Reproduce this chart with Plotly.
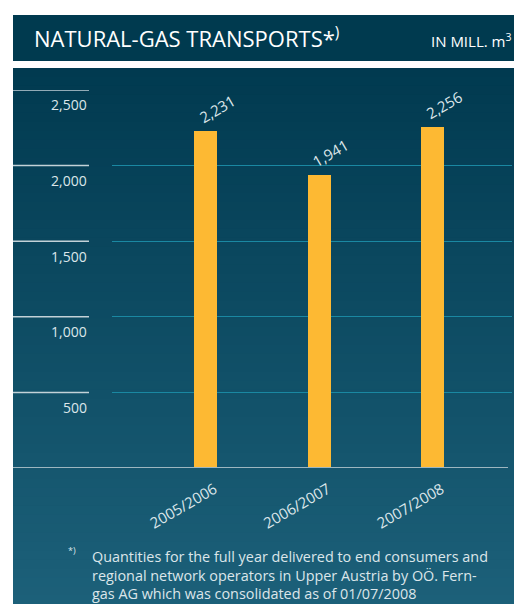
import plotly.graph_objects as go

W, H = 514, 604

categories = ["2005/2006", "2006/2007", "2007/2008"]
volumes = [2231, 1941, 2256]
value_labels = ["2,231", "1,941", "2,256"]
y_ticks = [500, 1000, 1500, 2000, 2500]
y_tick_labels = ["500", "1,000", "1,500", "2,000", "2,500"]

FONT = "Open Sans"
BAR = "#fdb933"
TEXT = "#dce6ea"


def fx(p):
    return p / W


def fy(p):
    return 1 - p / H


fig = go.Figure()

fig.add_trace(go.Bar(
    x=categories, y=volumes, width=0.203,
    marker=dict(color=BAR, line=dict(width=0)),
    hoverinfo="skip",
))

shapes = []
# header band
shapes.append(dict(type="rect", xref="paper", yref="paper",
                   x0=fx(13), x1=1, y0=fy(61), y1=fy(15),
                   fillcolor="#003a4f", line=dict(width=0), layer="below"))
# panel with vertical gradient: each band runs to the bottom so no seams show
top, bottom = 68, H
c0 = (0x01, 0x3a, 0x50)
c1 = (0x1c, 0x60, 0x79)
n = 60
step = (bottom - top) / n
for i in range(n):
    t = i / (n - 1)
    c = tuple(round(a + (b - a) * t) for a, b in zip(c0, c1))
    shapes.append(dict(type="rect", xref="paper", yref="paper",
                       x0=fx(13), x1=1,
                       y0=0, y1=fy(top + i * step),
                       fillcolor="rgb(%d,%d,%d)" % c, line=dict(width=0),
                       layer="below"))
# short left tick marks
for v in y_ticks:
    shapes.append(dict(type="line", xref="paper", yref="y",
                       x0=fx(13), x1=fx(89), y0=v, y1=v,
                       line=dict(color="#c3d2d8", width=1.5)))
# base line
shapes.append(dict(type="line", xref="paper", yref="y",
                   x0=fx(13), x1=fx(508), y0=0, y1=0,
                   line=dict(color="#9db6c0", width=2)))

annotations = []
for v, lab in zip(y_ticks, y_tick_labels):
    annotations.append(dict(x=fx(89), y=v, xref="paper", yref="y",
                            text=lab, showarrow=False, xanchor="right",
                            yanchor="middle", yshift=-15,
                            font=dict(family=FONT, size=14, color=TEXT)))
for c, v, lab in zip(categories, volumes, value_labels):
    annotations.append(dict(x=c, y=v, xref="x", yref="y", text=lab,
                            showarrow=False, textangle=-30,
                            xanchor="center", yanchor="middle",
                            xshift=11, yshift=22,
                            font=dict(family=FONT, size=15, color=TEXT)))

annotations.append(dict(x=fx(32), y=fy(38), xref="paper", yref="paper",
                        text="NATURAL-GAS TRANSPORTS*<sup>)</sup>",
                        showarrow=False, xanchor="left", yanchor="middle",
                        font=dict(family=FONT, size=22, color="#ffffff")))
annotations.append(dict(x=fx(513), y=fy(40), xref="paper", yref="paper",
                        text="IN MILL. m<sup>3</sup>",
                        showarrow=False, xanchor="right", yanchor="middle",
                        font=dict(family=FONT, size=15, color="#ffffff")))

annotations.append(dict(x=fx(66), y=fy(550), xref="paper", yref="paper",
                        text="*)", showarrow=False, xanchor="left",
                        yanchor="middle",
                        font=dict(family=FONT, size=9, color=TEXT)))
foot_lines = [
    "Quantities for the full year delivered to end consumers and",
    "regional network operators in Upper Austria by OÖ. Fern-",
    "gas AG which was consolidated as of 01/07/2008",
]
annotations.append(dict(x=fx(90), y=fy(545), xref="paper", yref="paper",
                        text="<br>".join(foot_lines), showarrow=False,
                        xanchor="left", yanchor="top", align="left",
                        font=dict(family=FONT, size=14.4, color=TEXT)))

fig.update_layout(
    width=W, height=H,
    margin=dict(l=0, r=0, t=0, b=0),
    paper_bgcolor="#ffffff",
    plot_bgcolor="rgba(0,0,0,0)",
    showlegend=False,
    bargap=0,
    shapes=shapes,
    annotations=annotations,
    xaxis=dict(
        domain=[fx(112), fx(512)],
        range=[-0.824, 2.700],
        type="category",
        showgrid=False, zeroline=False, showline=False,
        ticks="", tickangle=-30,
        ticklabelshift=9, ticklabelstandoff=9,
        tickfont=dict(family=FONT, size=15, color=TEXT),
        fixedrange=True,
    ),
    yaxis=dict(
        domain=[fy(468), fy(90)],
        range=[0, 2500],
        tickvals=y_ticks,
        showticklabels=False,
        showgrid=True, gridcolor="#1a88a2", gridwidth=1.2,
        zeroline=False, showline=False, ticks="",
        fixedrange=True,
    ),
)

fig.write_html("out.html")
